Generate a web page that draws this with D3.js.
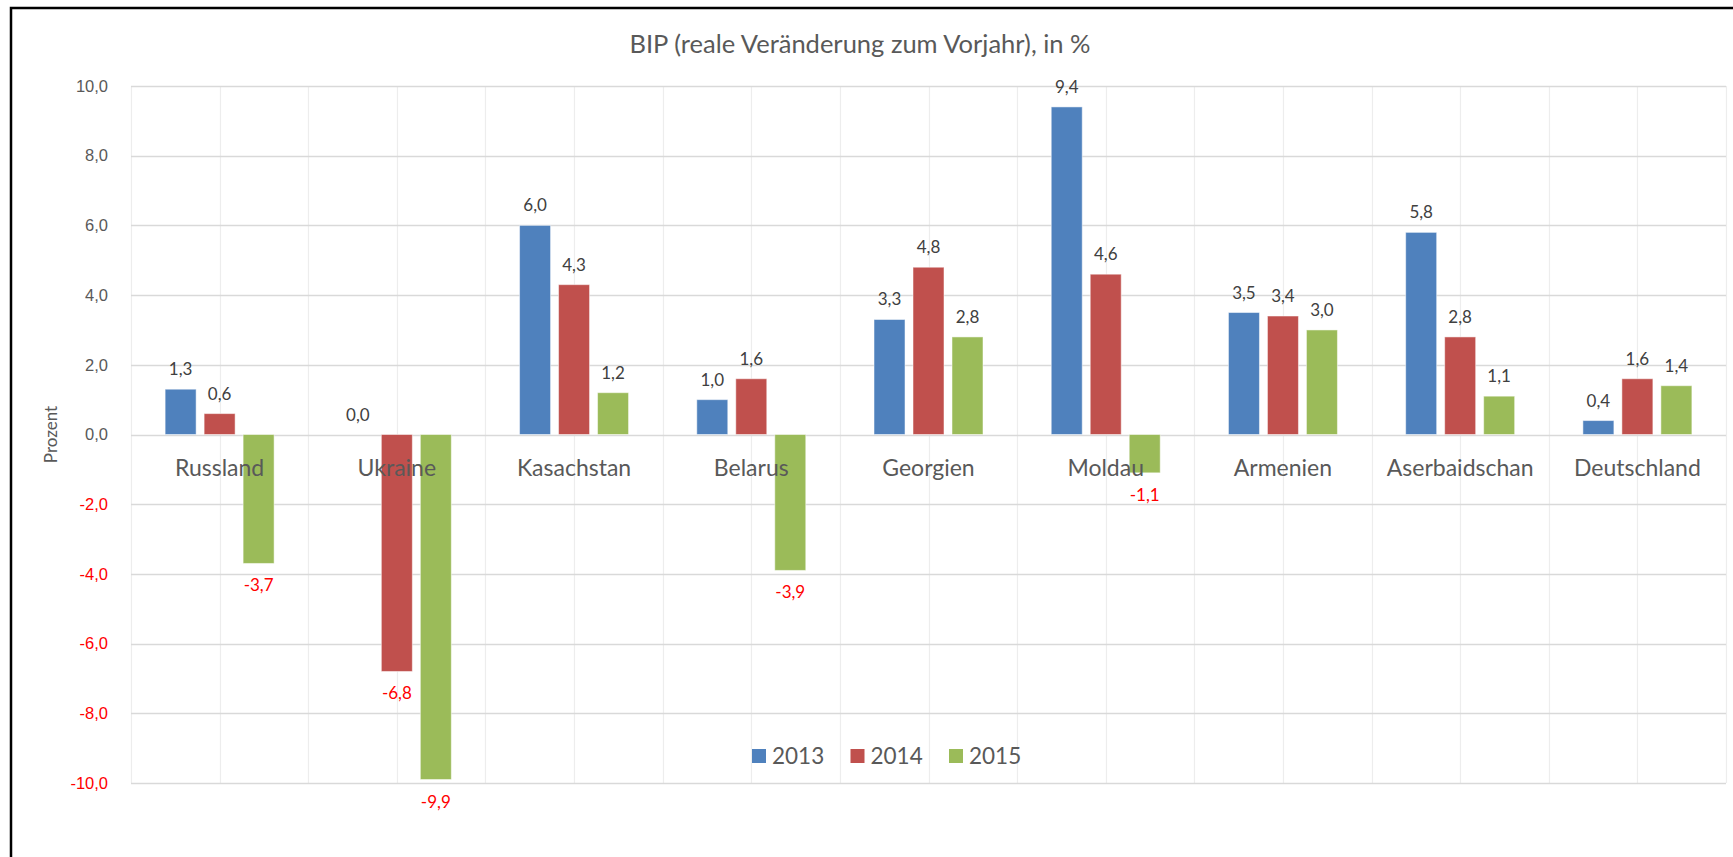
<!DOCTYPE html>
<html>
<head>
<meta charset="utf-8">
<script src="https://cdn.jsdelivr.net/npm/d3@7"></script>
<style>
  body { margin: 0; background: #fff; }
  svg { display: block; font-family: Lato, "Open Sans", sans-serif; }
</style>
</head>
<body>
<svg id="chart"></svg>
<script>
// data
var categories = ['Russland', 'Ukraine', 'Kasachstan', 'Belarus', 'Georgien', 'Moldau', 'Armenien', 'Aserbaidschan', 'Deutschland'];
var seriesNames = ['2013', '2014', '2015'];
var values2013 = [1.3, 0.0, 6.0, 1.0, 3.3, 9.4, 3.5, 5.8, 0.4];
var values2014 = [0.6, -6.8, 4.3, 1.6, 4.8, 4.6, 3.4, 2.8, 1.6];
var values2015 = [-3.7, -9.9, 1.2, -3.9, 2.8, -1.1, 3.0, 1.1, 1.4];
var yTicks = [-10, -8, -6, -4, -2, 0, 2, 4, 6, 8, 10];
var seriesColors = ['#4f81bd', '#c0504d', '#9bbb59'];
var titleText = 'BIP (reale Veränderung zum Vorjahr), in %';
var yAxisLabel = 'Prozent';

var width = 1733, height = 857;
var plotLeft = 131, plotRight = 1726, plotTop = 86, plotBottom = 783;

var svg = d3.select('#chart').attr('width', width).attr('height', height);

// german number format, plain hyphen as minus
var de = d3.formatLocale({decimal: ',', thousands: '.', grouping: [3], currency: ['', ' €'], minus: '-'});
var fmt = de.format('.1f');

// build rows for the grouped bars
var seriesValues = [values2013, values2014, values2015];
var rows = [];
categories.forEach(function(cat, i){
    seriesNames.forEach(function(s, j){
        rows.push({cat: cat, series: s, idx: j, value: seriesValues[j][i]});
    });
});

// scales
var x0 = d3.scaleBand().domain(categories).range([plotLeft, plotRight]).padding(0);
var x1 = d3.scaleBand().domain(seriesNames).range([0, x0.bandwidth()])
            .paddingInner(0.205).paddingOuter(0.875);
var y = d3.scaleLinear().domain([-10, 10]).range([plotBottom, plotTop]);

// outer frame (cut off on right and bottom in the reference)
svg.append('rect')
    .attr('x', 11).attr('y', 8)
    .attr('width', width + 20).attr('height', height + 20)
    .attr('fill', 'none')
    .attr('stroke', '#000')
    .attr('stroke-width', 2.5);

// vertical gridlines: category boundaries and centres
var vLines = [];
categories.forEach(function(c){
    vLines.push(x0(c));
    vLines.push(x0(c) + x0.bandwidth() / 2);
});
vLines.push(plotRight);
svg.append('g').selectAll('line')
    .data(vLines).join('line')
    .attr('x1', d => Math.round(d) + 0.5).attr('x2', d => Math.round(d) + 0.5)
    .attr('y1', plotTop).attr('y2', plotBottom)
    .attr('stroke', '#ededed')
    .attr('stroke-width', 1.2);

// horizontal gridlines
svg.append('g').selectAll('line')
    .data(yTicks).join('line')
    .attr('x1', plotLeft).attr('x2', plotRight)
    .attr('y1', d => Math.round(y(d)) + 0.5).attr('y2', d => Math.round(y(d)) + 0.5)
    .attr('stroke', '#d9d9d9')
    .attr('stroke-width', 1.3);

// y axis (labels only)
var yAxis = d3.axisLeft(y).tickValues(yTicks).tickFormat(fmt).tickSize(0).tickPadding(0);
var yAxisG = svg.append('g')
    .attr('transform', `translate(108,0)`)
    .call(yAxis);
yAxisG.select('.domain').remove();
yAxisG.selectAll('text')
    .style('font-size', '16.5px')
    .attr('fill', d => d < 0 ? '#ff0000' : '#595959');

svg.append('text')
    .attr('transform', `translate(57, ${y(0)}) rotate(-90)`)
    .attr('text-anchor', 'middle')
    .style('font-size', '17px')
    .attr('fill', '#595959')
    .text(yAxisLabel);

// bars
svg.append('g').selectAll('rect')
    .data(rows).join('rect')
    .attr('x', d => x0(d.cat) + x1(d.series))
    .attr('width', x1.bandwidth())
    .attr('y', d => y(Math.max(0, d.value)))
    .attr('height', d => Math.abs(y(d.value) - y(0)))
    .attr('fill', d => seriesColors[d.idx])
    .attr('stroke', '#fff')
    .attr('stroke-opacity', 0.5)
    .attr('stroke-width', 1);

// data labels
svg.append('g').selectAll('text')
    .data(rows).join('text')
    .attr('x', d => x0(d.cat) + x1(d.series) + x1.bandwidth() / 2)
    .attr('y', d => d.value < 0 ? y(d.value) + 28 : y(d.value) - 14)
    .attr('text-anchor', 'middle')
    .style('font-size', '17px')
    .attr('fill', d => d.value < 0 ? '#ff0000' : '#404040')
    .text(d => fmt(d.value));

// category labels next to the zero line
svg.append('g').selectAll('text')
    .data(categories).join('text')
    .attr('x', d => x0(d) + x0.bandwidth() / 2)
    .attr('y', y(0) + 41)
    .attr('text-anchor', 'middle')
    .style('font-size', '23px')
    .attr('fill', '#595959')
    .text(d => d);

// title
svg.append('text')
    .attr('x', 860).attr('y', 53)
    .attr('text-anchor', 'middle')
    .style('font-size', '25.5px')
    .attr('fill', '#595959')
    .text(titleText);

// legend
var legendG = svg.append('g').attr('transform', 'translate(752, 749)');
var items = legendG.selectAll('g')
    .data(seriesNames).join('g')
    .attr('transform', (d, i) => `translate(${i * 98.5}, 0)`);
items.append('rect')
    .attr('width', 14).attr('height', 14)
    .attr('fill', (d, i) => seriesColors[i]);
items.append('text')
    .attr('x', 20).attr('y', 15)
    .style('font-size', '22.5px')
    .attr('fill', '#595959')
    .text(d => d);
</script>
</body>
</html>
